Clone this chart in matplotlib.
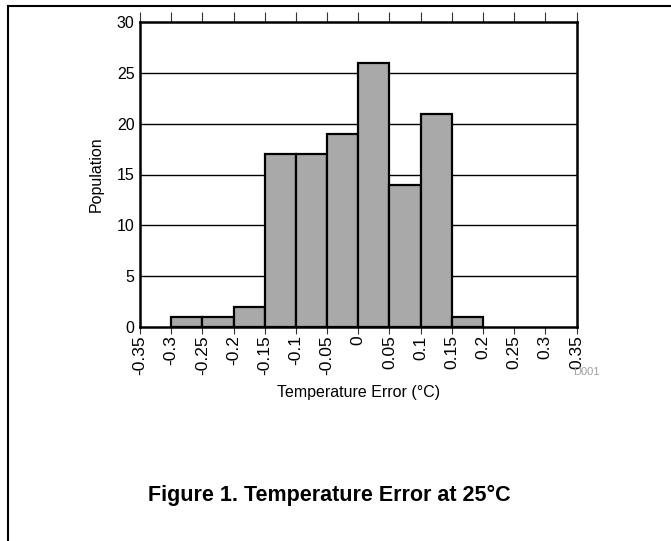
import matplotlib
matplotlib.use("Agg")
import matplotlib.pyplot as plt
from matplotlib.lines import Line2D
import numpy as np

bin_left = [-0.30, -0.25, -0.20, -0.15, -0.10, -0.05, 0.00, 0.05, 0.10, 0.15]
counts = [1, 1, 2, 17, 17, 19, 26, 14, 21, 1]
bin_width = 0.05
xticks = [-0.35, -0.3, -0.25, -0.2, -0.15, -0.1, -0.05, 0, 0.05, 0.1, 0.15, 0.2, 0.25, 0.3, 0.35]
xtick_labels = ["-0.35", "-0.3", "-0.25", "-0.2", "-0.15", "-0.1", "-0.05", "0",
                "0.05", "0.1", "0.15", "0.2", "0.25", "0.3", "0.35"]
yticks = [0, 5, 10, 15, 20, 25, 30]

plt.rcParams['font.family'] = ['Liberation Sans', 'DejaVu Sans']

W, H = 671, 541
fig = plt.figure(figsize=(W / 100, H / 100), dpi=100)
ax = fig.add_axes([140 / W, 1 - 327 / H, (576.5 - 140) / W, (327 - 22) / H])

ax.set_xlim(-0.35, 0.35)
ax.set_ylim(0, 30)

for y in yticks[1:-1]:
    ax.axhline(y, color='black', linewidth=1.0, zorder=1)

ax.bar(bin_left, counts, width=bin_width, align='edge', color='#a9a9a9',
       edgecolor='black', linewidth=1.6, zorder=2)

ax.set_xticks(xticks)
ax.set_xticklabels(xtick_labels, rotation=90, fontsize=12.5)
ax.set_yticks(yticks)
ax.set_yticklabels([str(v) for v in yticks], fontsize=11.5)
ax.tick_params(axis='y', length=0, pad=4)
ax.tick_params(axis='x', which='major', direction='out', length=5, width=0.8,
               color='#333333', pad=1, top=False, labeltop=False)
sec = ax.secondary_xaxis('top')
sec.set_xticks(xticks)
sec.set_xticklabels([])
sec.tick_params(direction='out', length=7, width=0.8, color='#333333')
sec.spines['top'].set_visible(False)

for s in ax.spines.values():
    s.set_linewidth(1.8)
    s.set_zorder(3)

ax.set_xlabel("Temperature Error (\u00b0C)", fontsize=11.5, labelpad=7)
ax.set_ylabel("Population", fontsize=11.5, labelpad=9)

fig.text(573 / W, 1 - 372 / H, "D001", fontsize=8, color='#a0a0a0',
         ha='left', va='center')
fig.text(329 / W, 1 - 495 / H, "Figure 1. Temperature Error at 25\u00b0C",
         fontsize=15.5, fontweight='bold', ha='center', va='center')

fig.add_artist(Line2D([7.5 / W, 1], [1 - 6 / H, 1 - 6 / H], color='black',
                      linewidth=1.5, transform=fig.transFigure))
fig.add_artist(Line2D([7.5 / W, 7.5 / W], [0, 1 - 6 / H], color='black',
                      linewidth=1.5, transform=fig.transFigure))

fig.savefig("out.png", dpi=100)
